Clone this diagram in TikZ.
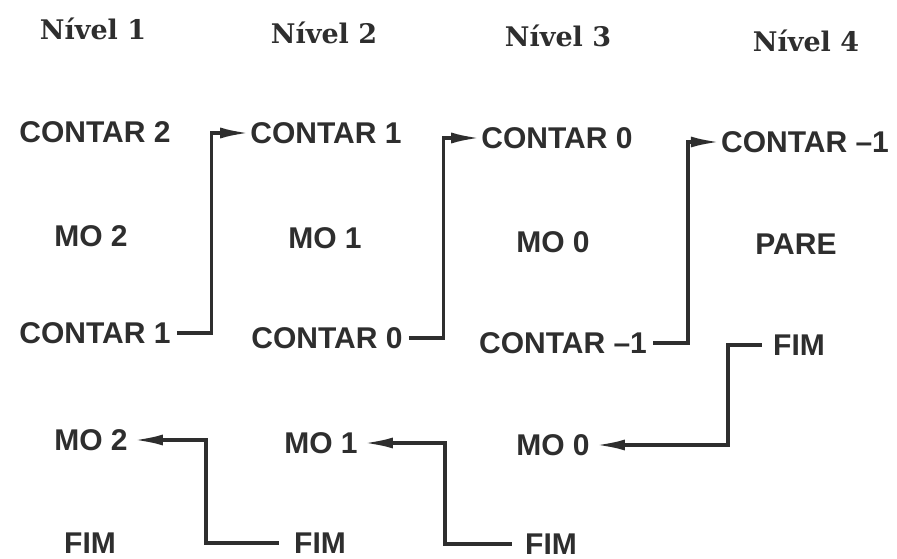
\documentclass[tikz,border=0pt]{standalone}
\usepackage{fontspec}
\setsansfont{Liberation Sans}
\newfontfamily\headfont{DejaVu Serif}
\usetikzlibrary{arrows.meta}
\definecolor{ink}{HTML}{2E2E2E}
\begin{document}
\begin{tikzpicture}[x=1pt, y=-1pt, >={Latex[length=29pt,width=11pt]},
	lbl/.style={inner sep=1pt, text=ink, font=\sffamily\bfseries\fontsize{30}{30}\selectfont},
	head/.style={inner sep=1pt, text=ink, font=\headfont\bfseries\fontsize{27}{27}\selectfont},
	conn/.style={draw=ink, line width=3.4pt}]
		\useasboundingbox (0,0) rectangle (897,559);
		% levels
		\foreach \x/\y [count=\i] in {93/29, 324/33, 558/36, 806/41}
			\node[head] (n\i) at (\x,\y) {Nível \i};
		% level 1
		\node[lbl] (c12) at (95,132) {CONTAR 2};
		\node[lbl] (mo21) at (91,236) {MO 2};
		\node[lbl] (c11) at (95,333) {CONTAR 1};
		\node[lbl] (mo22) at (91,440) {MO 2};
		\node[lbl] (fim1) at (90,543) {FIM};
		% level 2
		\node[lbl] (c21) at (326,133) {CONTAR 1};
		\node[lbl] (mo11) at (325,238) {MO 1};
		\node[lbl] (c20) at (327,338) {CONTAR 0};
		\node[lbl] (mo12) at (321,443) {MO 1};
		\node[lbl] (fim2) at (320,543) {FIM};
		% level 3
		\node[lbl] (c30) at (557,138) {CONTAR 0};
		\node[lbl] (mo01) at (553,242) {MO 0};
		\node[lbl] (c3m) at (563,343) {CONTAR –1};
		\node[lbl] (mo02) at (553,445) {MO 0};
		\node[lbl] (fim3) at (551,544) {FIM};
		% level 4
		\node[lbl] (c4m) at (805,142) {CONTAR –1};
		\node[lbl] (pare) at (796,244) {PARE};
		\node[lbl] (fim4) at (799,345) {FIM};
		% calls
		\draw[conn, ->, shorten <=5pt] (c11.east) -- ++(40,0) |- (c21.west);
		\draw[conn, ->, shorten <=5pt] (c20.east) -- ++(40,0) |- (c30.west);
		\draw[conn, ->, shorten <=5pt] (c3m.east) -- ++(40,0) |- (c4m.west);
		% returns
		\draw[conn, ->, shorten <=10pt, shorten >=5pt] (fim4.west) -- ++(-44,0) |- (mo02.east);
		\draw[conn, ->, shorten <=12pt, shorten >=5pt] (fim3.west) -- ++(-79,0) |- (mo12.east);
		\draw[conn, ->, shorten <=14pt, shorten >=5pt] (fim2.west) -- ++(-87,0) |- (mo22.east);
	\end{tikzpicture}
\end{document}
